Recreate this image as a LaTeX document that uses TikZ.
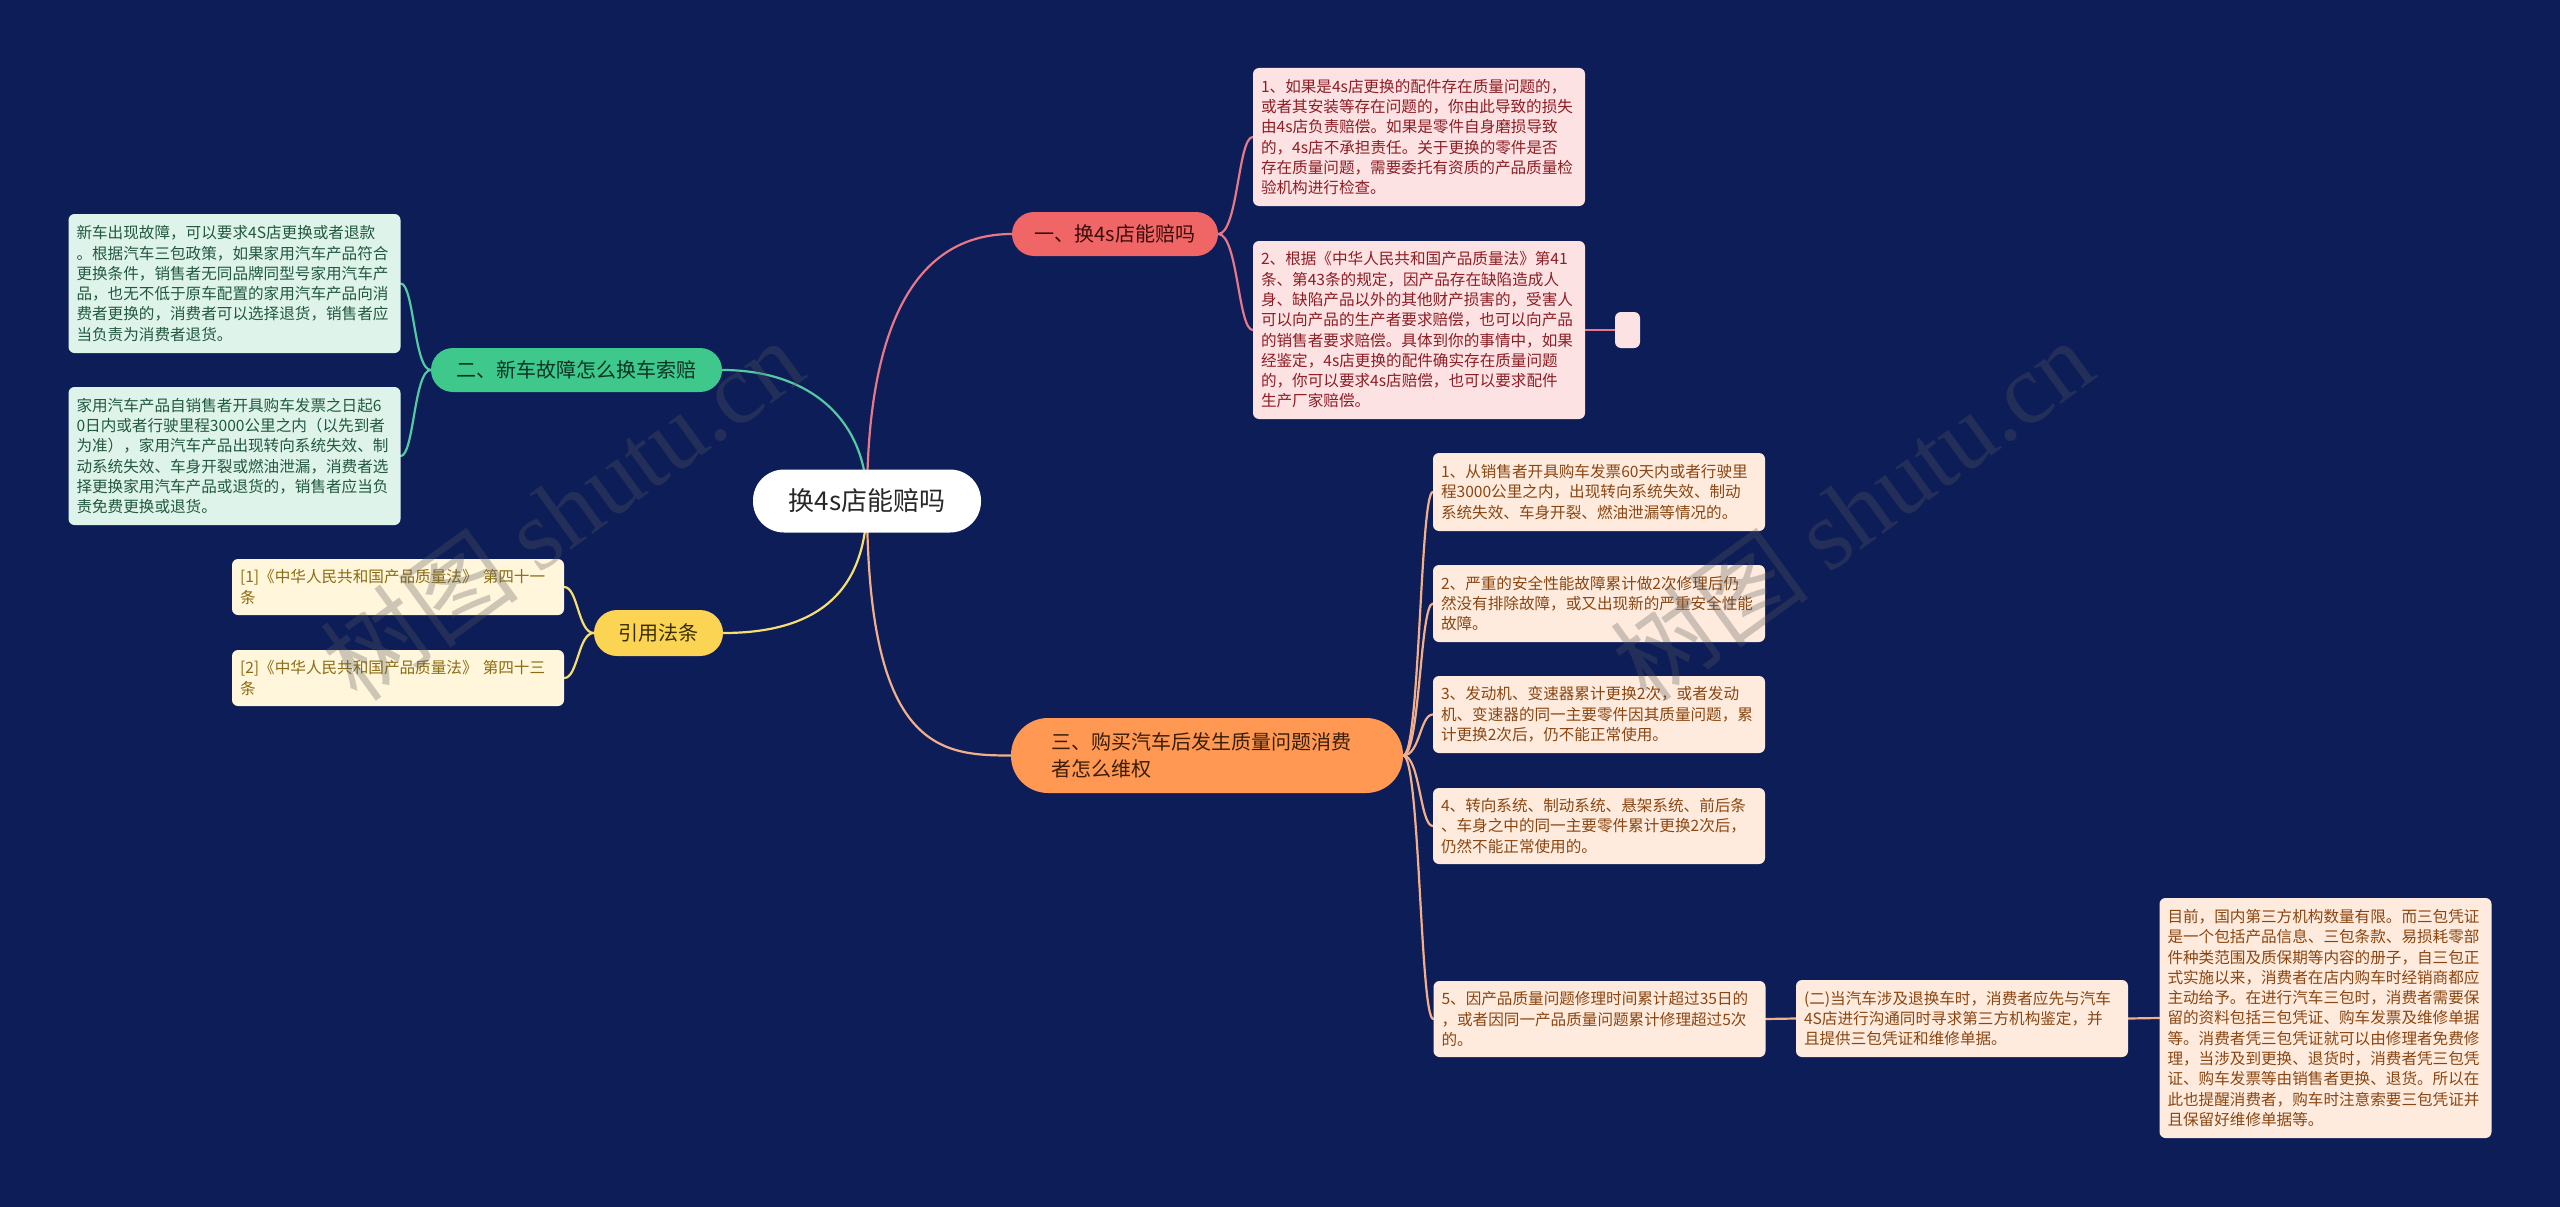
\documentclass[tikz,border=0pt]{standalone}
\usepackage{fontspec}
\setmainfont{Noto Sans CJK SC}
\newfontfamily\wmserif{Liberation Serif}
\pgfdeclarelayer{background}
\pgfsetlayers{background,main}
\definecolor{bgc}{RGB}{12,29,88}
\definecolor{redfill}{RGB}{240,102,102}
\definecolor{greenfill}{RGB}{62,200,140}
\definecolor{yellowfill}{RGB}{250,212,82}
\definecolor{orangefill}{RGB}{255,152,82}
\definecolor{pinkleaf}{RGB}{253,226,228}
\definecolor{pinktext}{RGB}{140,30,36}
\definecolor{mintleaf}{RGB}{222,244,234}
\definecolor{minttext}{RGB}{34,88,63}
\definecolor{creamleaf}{RGB}{255,246,219}
\definecolor{creamtext}{RGB}{138,108,18}
\definecolor{peachleaf}{RGB}{254,235,221}
\definecolor{peachtext}{RGB}{138,70,18}
\definecolor{pinkline}{RGB}{230,120,135}
\definecolor{tealline}{RGB}{84,202,162}
\definecolor{yellowline}{RGB}{246,222,112}
\definecolor{peachline}{RGB}{242,175,138}
\definecolor{roottext}{RGB}{40,40,40}
\definecolor{wmgray}{RGB}{90,90,90}
\begin{document}
\begin{tikzpicture}[x=1pt,y=-1pt,
  leaf/.style={rounded corners=6, text width=316, inner xsep=8, inner ysep=4, align=left, font=\fontsize{15.6}{20.3}\selectfont},
  pinkbox/.style={leaf, fill=pinkleaf, text=pinktext},
  mintbox/.style={leaf, fill=mintleaf, text=minttext},
  creambox/.style={leaf, fill=creamleaf, text=creamtext},
  peachbox/.style={leaf, fill=peachleaf, text=peachtext},
  branch/.style={rounded corners=22, inner sep=0, font=\fontsize{20}{27}\selectfont, align=center},
  conn/.style={line width=2.2, line cap=round},
  wm/.style={text=wmgray, opacity=0.3, font=\fontsize{100}{100}\selectfont, inner sep=0}
]
\useasboundingbox (0,0) rectangle (2560,1207);
\begin{pgfonlayer}{background}
\fill[bgc] (0,0) rectangle (2560,1207);
\end{pgfonlayer}

% root
\node[fill=white, rounded corners=31, minimum width=228, minimum height=63, inner sep=0, text=roottext, font=\fontsize{26}{30}\selectfont] (root) at (867,501) {换4s店能赔吗};

% branches
\node[branch, fill=redfill, text={rgb,255:red,60;green,12;blue,12}, minimum width=206, minimum height=44] (b1) at (1115,234) {一、换4s店能赔吗};
\node[branch, fill=greenfill, text={rgb,255:red,12;green,52;blue,36}, minimum width=291, minimum height=44] (b2) at (576.5,370) {二、新车故障怎么换车索赔};
\node[branch, fill=yellowfill, text={rgb,255:red,58;green,46;blue,0}, minimum width=129, minimum height=46, rounded corners=23] (b3) at (658.5,633) {引用法条};
\node[branch, fill=orangefill, text={rgb,255:red,58;green,30;blue,8}, text width=312, inner xsep=40, align=left, minimum height=75, rounded corners=37] (b4) at (1207,755.5) {三、购买汽车后发生质量问题消费\\者怎么维权};

% leaves of branch 1
\node[pinkbox, minimum height=138] (l1a) at (1419,137) {1、如果是4s店更换的配件存在质量问题的，\\或者其安装等存在问题的，你由此导致的损失\\由4s店负责赔偿。如果是零件自身磨损导致\\的，4s店不承担责任。关于更换的零件是否\\存在质量问题，需要委托有资质的产品质量检\\验机构进行检查。};
\node[pinkbox, minimum height=178] (l1b) at (1419,330) {2、根据《中华人民共和国产品质量法》第41\\条、第43条的规定，因产品存在缺陷造成人\\身、缺陷产品以外的其他财产损害的，受害人\\可以向产品的生产者要求赔偿，也可以向产品\\的销售者要求赔偿。具体到你的事情中，如果\\经鉴定，4s店更换的配件确实存在质量问题\\的，你可以要求4s店赔偿，也可以要求配件\\生产厂家赔偿。};
\node[fill=pinkleaf, rounded corners=6, minimum width=25, minimum height=36, inner sep=0] (l1c) at (1627.5,330) {};

% leaves of branch 2
\node[mintbox, minimum height=139] (l2a) at (234.5,283.5) {新车出现故障，可以要求4S店更换或者退款\\。根据汽车三包政策，如果家用汽车产品符合\\更换条件，销售者无同品牌同型号家用汽车产\\品，也无不低于原车配置的家用汽车产品向消\\费者更换的，消费者可以选择退货，销售者应\\当负责为消费者退货。};
\node[mintbox, minimum height=138] (l2b) at (234.5,456) {家用汽车产品自销售者开具购车发票之日起6\\0日内或者行驶里程3000公里之内（以先到者\\为准），家用汽车产品出现转向系统失效、制\\动系统失效、车身开裂或燃油泄漏，消费者选\\择更换家用汽车产品或退货的，销售者应当负\\责免费更换或退货。};

% leaves of branch 3 (citations)
\node[creambox, minimum height=56] (l3a) at (398,587) {[1]《中华人民共和国产品质量法》 第四十一\\条};
\node[creambox, minimum height=56] (l3b) at (398,678) {[2]《中华人民共和国产品质量法》 第四十三\\条};

% leaves of branch 4
\node[peachbox, minimum height=78] (l4a) at (1599,492) {1、从销售者开具购车发票60天内或者行驶里\\程3000公里之内，出现转向系统失效、制动\\系统失效、车身开裂、燃油泄漏等情况的。};
\node[peachbox, minimum height=77] (l4b) at (1599,603.5) {2、严重的安全性能故障累计做2次修理后仍\\然没有排除故障，或又出现新的严重安全性能\\故障。};
\node[peachbox, minimum height=77] (l4c) at (1599,714.5) {3、发动机、变速器累计更换2次，或者发动\\机、变速器的同一主要零件因其质量问题，累\\计更换2次后，仍不能正常使用。};
\node[peachbox, minimum height=76] (l4d) at (1599,826) {4、转向系统、制动系统、悬架系统、前后条\\、车身之中的同一主要零件累计更换2次后，\\仍然不能正常使用的。};
\node[peachbox, minimum height=76] (l4e) at (1599.5,1019) {5、因产品质量问题修理时间累计超过35日的\\，或者因同一产品质量问题累计修理超过5次\\的。};
\node[peachbox, minimum height=77] (l4f) at (1962,1018.5) {(二)当汽车涉及退换车时，消费者应先与汽车\\4S店进行沟通同时寻求第三方机构鉴定，并\\且提供三包凭证和维修单据。};
\node[peachbox, minimum height=240] (l4g) at (2325.5,1018) {目前，国内第三方机构数量有限。而三包凭证\\是一个包括产品信息、三包条款、易损耗零部\\件种类范围及质保期等内容的册子，自三包正\\式实施以来，消费者在店内购车时经销商都应\\主动给予。在进行汽车三包时，消费者需要保\\留的资料包括三包凭证、购车发票及维修单据\\等。消费者凭三包凭证就可以由修理者免费修\\理，当涉及到更换、退货时，消费者凭三包凭\\证、购车发票等由销售者更换、退货。所以在\\此也提醒消费者，购车时注意索要三包凭证并\\且保留好维修单据等。};

\begin{pgfonlayer}{background}
% root to branches
\draw[conn, pinkline] (root.center) .. controls (867,300) and (930,234) .. (b1.west);
\draw[conn, tealline] (root.center) .. controls (867,420) and (810,370) .. (b2.east);
\draw[conn, yellowline] (root.center) .. controls (867,590) and (820,633) .. (b3.east);
\draw[conn, peachline] (root.center) .. controls (867,750) and (940,755.5) .. (b4.west);
% branch 1 to leaves
\draw[conn, pinkline] (b1.east) .. controls (1238,234) and (1238,137) .. (l1a.west);
\draw[conn, pinkline] (b1.east) .. controls (1238,234) and (1238,330) .. (l1b.west);
\draw[conn, pinkline] (l1b.east) -- (l1c.west);
% branch 2 to leaves
\draw[conn, tealline] (b2.west) .. controls (414,370) and (414,283.5) .. (l2a.east);
\draw[conn, tealline] (b2.west) .. controls (414,370) and (414,456) .. (l2b.east);
% branch 3 to leaves
\draw[conn, yellowline] (b3.west) .. controls (578,633) and (578,587) .. (l3a.east);
\draw[conn, yellowline] (b3.west) .. controls (578,633) and (578,678) .. (l3b.east);
% branch 4 to leaves
\draw[conn, peachline] (b4.east) .. controls (1420,755.5) and (1420,492) .. (l4a.west);
\draw[conn, peachline] (b4.east) .. controls (1420,755.5) and (1420,603.5) .. (l4b.west);
\draw[conn, peachline] (b4.east) .. controls (1420,755.5) and (1420,714.5) .. (l4c.west);
\draw[conn, peachline] (b4.east) .. controls (1420,755.5) and (1420,826) .. (l4d.west);
\draw[conn, peachline] (b4.east) .. controls (1420,755.5) and (1420,1019) .. (l4e.west);
\draw[conn, peachline] (l4e.east) -- (l4f.west);
\draw[conn, peachline] (l4f.east) -- (l4g.west);
\end{pgfonlayer}

% watermarks
\node[wm, rotate=36] (wm1) at (562,510) {树图 {\wmserif shutu.cn}};
\node[wm, rotate=36] (wm2) at (1852,510) {树图 {\wmserif shutu.cn}};
\end{tikzpicture}
\end{document}
